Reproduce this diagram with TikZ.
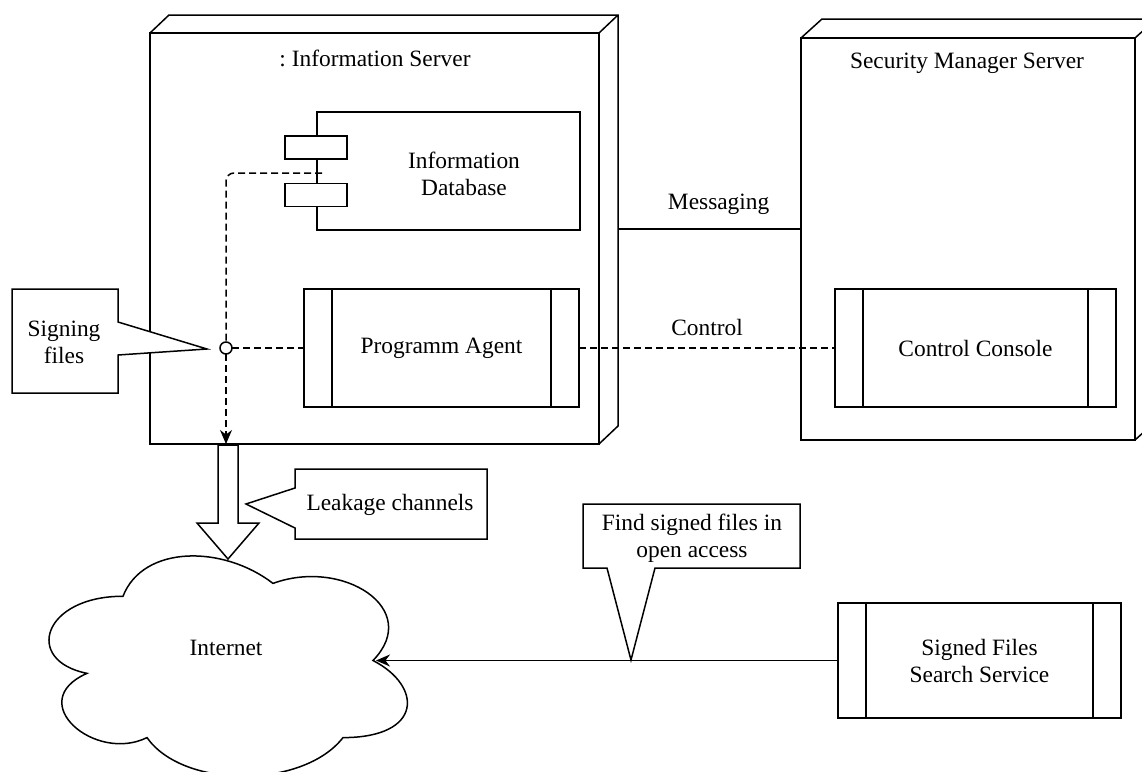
\documentclass[tikz,border=0pt]{standalone}
\usepackage{fontspec}
\setmainfont{Liberation Serif}
\usetikzlibrary{arrows.meta}
\begin{document}
\begin{tikzpicture}[x=0.5pt,y=-0.5pt,line width=0.75pt,
    font=\fontsize{11.7}{13.5}\selectfont,
    every node/.style={outer sep=0pt},
    frontbox/.style={draw,fill=white,inner sep=0pt},
    procbox/.style={draw,fill=white,inner sep=0pt,align=center,
      path picture={
        \draw ([xshift=14pt]path picture bounding box.north west) -- ([xshift=14pt]path picture bounding box.south west);
        \draw ([xshift=-14pt]path picture bounding box.north east) -- ([xshift=-14pt]path picture bounding box.south east);}},
    portbox/.style={draw,fill=white,inner sep=0pt,minimum width=31pt,minimum height=11.5pt},
    dashline/.style={dash pattern=on 3.5pt off 2pt},
    arrowto/.style={-{Stealth[length=7pt,width=6pt]}}]
    \clip (0,0) rectangle (1142,772);
    \fill [white] (0,0) rectangle (1142,772);
    % servers
    \node [frontbox,minimum width=224.5pt,minimum height=205.5pt] (infosrv) at (374.5,238.5) {};
    \draw (infosrv.north west) -- ++(19,-18) -- ([shift={(19,-18)}]infosrv.north east) -- ([shift={(19,-18)}]infosrv.south east) -- (infosrv.south east) (infosrv.north east) -- ++(19,-18);
    \node (infotitle) at (375,58) {:\ Information Server};
    \node [frontbox,minimum width=167pt,minimum height=201pt] (secsrv) at (968,239) {};
    \draw (secsrv.north west) -- ++(21,-19) -- ([shift={(21,-19)}]secsrv.north east) -- ([shift={(21,-19)}]secsrv.south east) -- (secsrv.south east) (secsrv.north east) -- ++(21,-19);
    \node (sectitle) at (967,63) {Security Manager Server};
    % database component
    \node [draw,inner sep=0pt,minimum width=131.5pt,minimum height=59pt] (infodb) at (448.5,171) {};
    \node [align=center] (dbtext) at (464,173.5) {Information\\Database};
    \coordinate (dbport) at (322,173);
    \node [circle,draw,fill=white,minimum size=6pt,inner sep=0pt] (ball) at (226,348) {};
    \draw [dashline,rounded corners=4pt] (dbport) -| (ball.north);
    \node [portbox] (port1) at (316,147.5) {};
    \node [portbox] (port2) at (316,195) {};
    % processes
    \node [procbox,minimum width=137.5pt,minimum height=59pt] (agent) at (441.5,348) {Programm Agent};
    \node [procbox,minimum width=140.5pt,minimum height=59pt] (console) at (975.5,348) {Control Console};
    \node [procbox,minimum width=141.5pt,minimum height=57.5pt] (search) at (979.5,660.5) {Signed Files\\Search Service};
    \draw [dashline] (ball) -- (agent);
    \draw [dashline] (agent) -- node [above=3pt] (ctrllabel) {Control} (console);
    \coordinate (msgA) at (618,229);
    \draw (msgA) -- node [above=4pt,pos=0.55] (msglabel) {Messaging} (msgA -| secsrv.west);
    % leakage
    \draw [fill=white] (218,445) -- (218,523) -- (197,523) -- (228,559) -- (259,523) -- (238,523) -- (238,445) -- cycle;
    \draw [dashline,arrowto] (ball) -- (ball |- infosrv.south);
    \draw [fill=white] (295,469) -- (487,469) -- (487,539) -- (295,539) -- (295,528) -- (246,504) -- (295,488) -- cycle;
    \node (leaktext) at (390,505) {Leakage channels};
    \draw [fill=white] (12,289) -- (118,289) -- (118,322) -- (207,349) -- (118,355) -- (118,393) -- (12,393) -- cycle;
    \node [align=center] (signtext) at (64,342.5) {Signing\\files};
    % internet
    \draw [fill=white] (123,596.25) .. controls (43,596.25) and (23,660.5) .. (87,673.35)
      .. controls (23,701.6) and (95,763.3) .. (147,737.6)
      .. controls (183,789) and (303,789) .. (343,737.6)
      .. controls (423,737.6) and (423,686.2) .. (373,660.5)
      .. controls (423,609.1) and (343,557.7) .. (273,583.4)
      .. controls (223,544.85) and (143,544.85) .. (123,596.25) -- cycle;
    \node (internet) at (226,648) {Internet};
    \coordinate (cloudin) at (376,660);
    \draw [arrowto] (search.west) -- (cloudin |- search.west);
    \draw [fill=white] (583,504) -- (800,504) -- (800,568) -- (655,568) -- (631,660) -- (607,568) -- (583,568) -- cycle;
    \node [align=center] (findtext) at (692,538) {Find signed files in\\open access};
\end{tikzpicture}
\end{document}
